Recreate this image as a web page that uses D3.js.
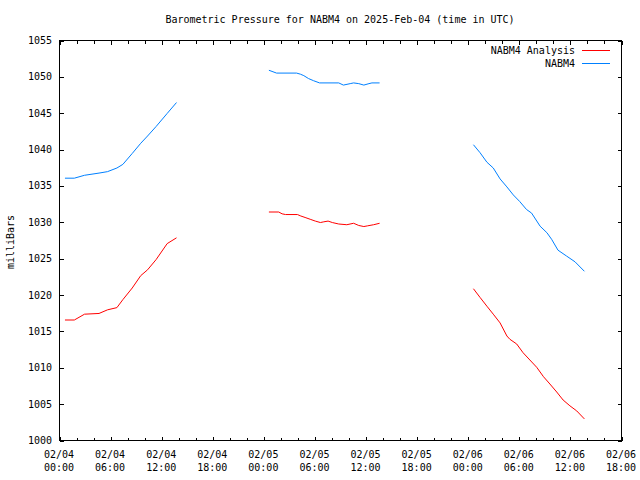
<!DOCTYPE html>
<html>
<head>
<meta charset="utf-8">
<script src="https://cdn.jsdelivr.net/npm/d3@7"></script>
<style>
  html, body { margin: 0; padding: 0; background: #fff; }
  svg { display: block; }
  text { font-family: "DejaVu Sans Mono", "Liberation Mono", monospace; font-size: 10px; fill: #000; }
</style>
</head>
<body>
<svg id="chart" width="640" height="480"></svg>
<script>
// ---- data (hours since 2025-02-04 00:00 UTC) ----
const startTime = "2025-02-04T00:00:00Z";
const analysisHours = [0.7,1.8,3.0,4.7,5.7,6.8,7.5,8.6,9.6,10.4,11.4,12.7,13.8,
  20,
  24.65,25.8,26.2,26.6,28.0,28.4,28.9,29.5,30.1,30.7,31.1,31.6,32.1,32.85,33.8,34.6,35.2,35.8,36.25,36.95,37.65,
  44,
  48.67,49.45,50.25,51.0,51.8,52.6,52.95,53.75,54.5,55.3,56.1,56.9,57.65,58.45,59.2,60.0,60.8,61.7];
const analysisValues = [1016.5,1016.5,1017.3,1017.4,1017.9,1018.2,1019.3,1020.9,1022.6,1023.4,1024.8,1027.0,1027.8,
  null,
  1031.35,1031.35,1031.1,1031.0,1031.0,1030.8,1030.6,1030.35,1030.1,1029.9,1030.0,1030.1,1029.9,1029.7,1029.6,1029.8,1029.5,1029.35,1029.45,1029.6,1029.8,
  null,
  1020.8,1019.6,1018.4,1017.3,1016.1,1014.3,1013.85,1013.2,1012.0,1011.0,1010.0,1008.7,1007.7,1006.6,1005.5,1004.7,1004.0,1002.9];
const stationHours = [0.7,1.8,3.0,4.7,5.7,6.8,7.5,8.6,9.6,10.4,11.4,12.7,13.8,
  20,
  24.65,25.55,27.9,28.35,28.75,29.3,29.9,30.6,32.85,33.4,34.2,34.6,35.2,35.8,36.4,36.75,37.65,
  44,
  48.67,49.45,50.25,51.0,51.8,52.6,53.35,54.1,54.9,55.5,56.5,57.3,57.85,58.6,59.6,60.6,61.7];
const stationValues = [1036.0,1036.0,1036.4,1036.7,1036.9,1037.4,1037.9,1039.4,1040.8,1041.8,1043.1,1044.9,1046.4,
  null,
  1050.84,1050.45,1050.45,1050.3,1050.1,1049.7,1049.4,1049.1,1049.1,1048.8,1049.0,1049.1,1049.0,1048.8,1049.0,1049.1,1049.1,
  null,
  1040.6,1039.5,1038.2,1037.4,1035.9,1034.8,1033.7,1032.8,1031.7,1031.2,1029.4,1028.5,1027.6,1026.1,1025.3,1024.5,1023.2];
const seriesNames = ["NABM4 Analysis", "NABM4"];
const seriesColors = ["#ff0000", "#0080ff"];
const xTickDates = ["02/04","02/04","02/04","02/04","02/05","02/05","02/05","02/05","02/06","02/06","02/06","02/06"];
const xTickTimes = ["00:00","06:00","12:00","18:00","00:00","06:00","12:00","18:00","00:00","06:00","12:00","18:00"];
const yTicks = [1000,1005,1010,1015,1020,1025,1030,1035,1040,1045,1050,1055];
const titleText = "Barometric Pressure for NABM4 on 2025-Feb-04 (time in UTC)";
const yLabelText = "milliBars";

(function () {
// ---- layout ----
const svg = d3.select("#chart");
const pLeft = 59, pRight = 621, pTop = 40, pBottom = 440;
const t0 = new Date(startTime).getTime();
const toDate = h => new Date(t0 + h * 3600e3);

const x = d3.scaleUtc().domain([toDate(0), toDate(66)]).range([pLeft, pRight]);
const y = d3.scaleLinear().domain([1000, 1055]).range([pBottom, pTop]);

const majorTicks = d3.range(0, 67, 6).map(toDate);
const minorTicks = d3.range(0, 67, 2).filter(h => h % 6 !== 0).map(toDate);

// frame
svg.append("rect").attr("x", pLeft + 0.5).attr("y", pTop + 0.5)
  .attr("width", pRight - pLeft).attr("height", pBottom - pTop)
  .attr("fill", "none").attr("stroke", "#000").attr("shape-rendering", "crispEdges");

// x axes (ticks inward, mirrored)
svg.append("g").attr("transform", `translate(0.5,${pBottom + 0.5})`)
  .call(d3.axisTop(x).tickValues(majorTicks).tickSize(4).tickFormat(""));
svg.append("g").attr("transform", `translate(0.5,${pTop + 0.5})`)
  .call(d3.axisBottom(x).tickValues(majorTicks).tickSize(4).tickFormat(""));
svg.append("g").attr("transform", `translate(0.5,${pBottom + 0.5})`)
  .call(d3.axisTop(x).tickValues(minorTicks).tickSize(3).tickFormat(""));
svg.append("g").attr("transform", `translate(0.5,${pTop + 0.5})`)
  .call(d3.axisBottom(x).tickValues(minorTicks).tickSize(3).tickFormat(""));
// y axes
svg.append("g").attr("transform", `translate(${pLeft + 0.5},0.5)`)
  .call(d3.axisRight(y).tickValues(yTicks).tickSize(4).tickFormat(""));
svg.append("g").attr("transform", `translate(${pRight + 0.5},0.5)`)
  .call(d3.axisLeft(y).tickValues(yTicks).tickSize(4).tickFormat(""));
svg.selectAll(".domain").remove();
svg.selectAll(".tick line").attr("stroke", "#000").attr("shape-rendering", "crispEdges");

// x tick labels
majorTicks.forEach((d, i) => {
  const g = svg.append("text").attr("text-anchor", "middle");
  g.append("tspan").attr("x", x(d)).attr("y", 458).text(xTickDates[i]);
  g.append("tspan").attr("x", x(d)).attr("y", 471).text(xTickTimes[i]);
});
// y tick labels
yTicks.forEach(v => {
  svg.append("text").attr("x", 52).attr("y", y(v) + 4).attr("text-anchor", "end").text(v);
});

// title & y label
svg.append("text").attr("x", 340).attr("y", 23).attr("text-anchor", "middle").text(titleText);
svg.append("text").attr("transform", "translate(14,242) rotate(-90)").attr("text-anchor", "middle").text(yLabelText);

// lines
const mk = (hours, vals) => hours.map((h, i) => ({ t: toDate(h), v: vals[i] }));
const series = [mk(analysisHours, analysisValues), mk(stationHours, stationValues)];
const line = d3.line().defined(d => d.v != null).x(d => x(d.t)).y(d => y(d.v));
series.forEach((s, i) => {
  svg.append("path").datum(s).attr("d", line)
    .attr("fill", "none").attr("stroke", seriesColors[i]).attr("stroke-width", 1);
});

// legend
seriesNames.forEach((name, i) => {
  const ly = 50 + i * 13;
  svg.append("text").attr("x", 575).attr("y", ly + 4).attr("text-anchor", "end").text(name);
  svg.append("line").attr("x1", 582).attr("x2", 610).attr("y1", ly + 0.5).attr("y2", ly + 0.5)
    .attr("stroke", seriesColors[i]).attr("stroke-width", 1).attr("shape-rendering", "crispEdges");
});
})();
</script>
</body>
</html>
